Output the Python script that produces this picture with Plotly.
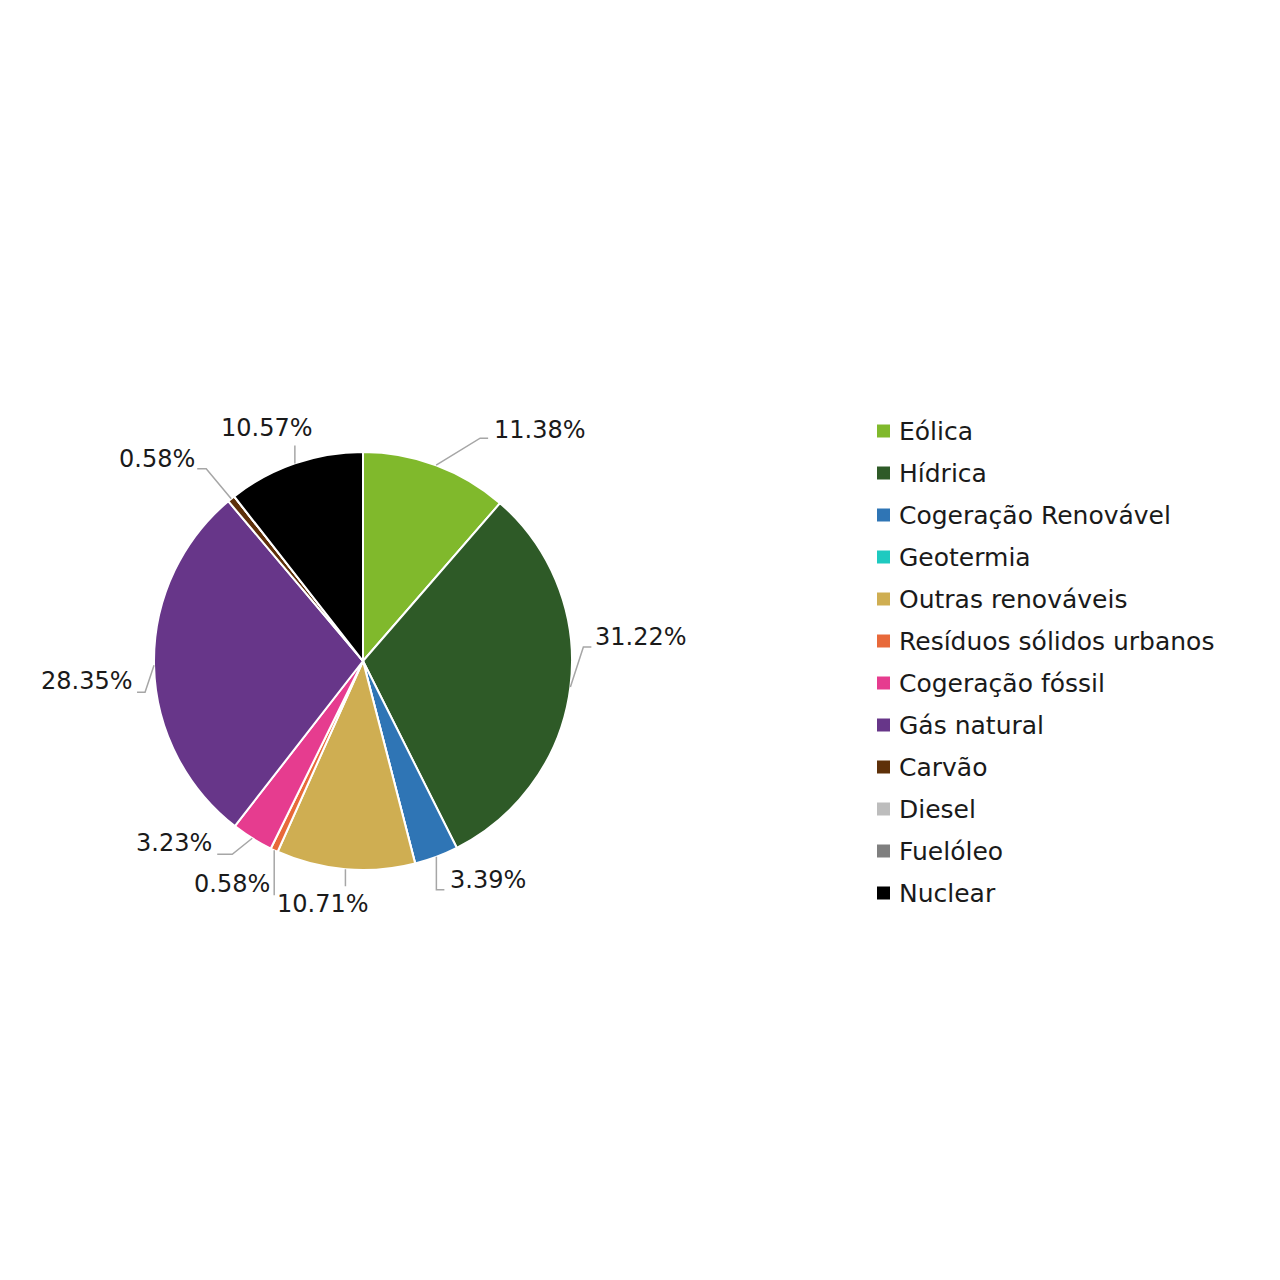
import math
import plotly.graph_objects as go

categories = ["Eólica", "Hídrica", "Cogeração Renovável", "Geotermia", "Outras renováveis",
              "Resíduos sólidos urbanos", "Cogeração fóssil", "Gás natural", "Carvão",
              "Diesel", "Fuelóleo", "Nuclear"]
values = [11.38, 31.22, 3.39, 0.0, 10.71, 0.58, 3.23, 28.35, 0.58, 0.0, 0.0, 10.57]
colors = ["#80b92c", "#2e5a27", "#2f75b5", "#1ecac0", "#cfae52", "#e8693a",
          "#e63c8f", "#673689", "#5e3009", "#bdbdbd", "#7f7f7f", "#000000"]

W = H = 1280
OFF = 8  # page body margin
CX, CY, R = 363.0, 661.0, 209.0
FONT = "DejaVu Sans"
FS = 24
LFS = 25
TXT = "#1a1a1a"
LINE = "#a6a6a6"

# label leader layout per labelled slice (styling): elbow offset from edge, stub, text offset, anchor
label_style = {
    "Eólica": ((44, -27), 8, (4, -8), "left"),
    "Hídrica": ((13, -40), 8, (2, -10), "left"),
    "Cogeração Renovável": ((0, 33), 8, (4, -10), "left"),
    "Outras renováveis": ((0, 17), 0, (-22, 18), "center"),
    "Resíduos sólidos urbanos": ((0, 45), 0, (-2, -11), "right"),
    "Cogeração fóssil": ((-20, 16), -15, (-3, -11), "right"),
    "Gás natural": ((-9, 27), -8, (-2, -11), "right"),
    "Carvão": ((-25, -30), -9, (0, -10), "right"),
    "Nuclear": ((0, -18), 0, (-28, -17), "center"),
}


def px(x, y):
    return (x - OFF) / W, 1 - (y - OFF) / H


fig = go.Figure(go.Pie(
    labels=categories, values=values, sort=False, direction="clockwise", rotation=0,
    marker=dict(colors=colors, line=dict(color="white", width=2)),
    textinfo="none", hoverinfo="label+percent", showlegend=False,
    domain=dict(x=[(CX - R - OFF) / W, (CX + R - OFF) / W],
                y=[1 - (CY + R - OFF) / H, 1 - (CY - R - OFF) / H]),
))

total = sum(values)
cum = 0.0
shapes = []
annotations = []
for cat, v in zip(categories, values):
    if v <= 0:
        continue
    mid = (cum + v / 2) / total * 2 * math.pi
    cum += v
    ex, ey = CX + R * math.sin(mid), CY - R * math.cos(mid)
    (edx, edy), stub, (tdx, tdy), anchor = label_style[cat]
    bx, by = ex + edx, ey + edy
    sx, sy = bx + stub, by
    p = [px(ex, ey), px(bx, by), px(sx, sy)]
    shapes.append(dict(type="path", xref="paper", yref="paper",
                       path=f"M{p[0][0]},{p[0][1]} L{p[1][0]},{p[1][1]} L{p[2][0]},{p[2][1]}",
                       line=dict(color=LINE, width=1.5)))
    tx, ty = px(sx + tdx, sy + tdy)
    annotations.append(dict(x=tx, y=ty, xref="paper", yref="paper", showarrow=False,
                            text=f"{v:.2f}%", xanchor=anchor, yanchor="middle",
                            font=dict(family=FONT, size=FS, color=TXT)))

# manual legend
LX, LY0, LDY, SQ = 877, 431, 42, 13
for i, (cat, col) in enumerate(zip(categories, colors)):
    yc = LY0 + i * LDY
    x0, y0 = px(LX, yc + SQ / 2)
    x1, y1 = px(LX + SQ, yc - SQ / 2)
    shapes.append(dict(type="rect", xref="paper", yref="paper", x0=x0, y0=y0, x1=x1, y1=y1,
                       fillcolor=col, line=dict(width=0)))
    tx, ty = px(LX + 20, yc)
    annotations.append(dict(x=tx, y=ty, xref="paper", yref="paper", showarrow=False,
                            text=cat, xanchor="left", yanchor="middle",
                            font=dict(family=FONT, size=LFS, color=TXT)))

fig.update_layout(width=W, height=H, margin=dict(l=0, r=0, t=0, b=0),
                  paper_bgcolor="white", plot_bgcolor="white",
                  shapes=shapes, annotations=annotations)
fig.write_html("out.html")
